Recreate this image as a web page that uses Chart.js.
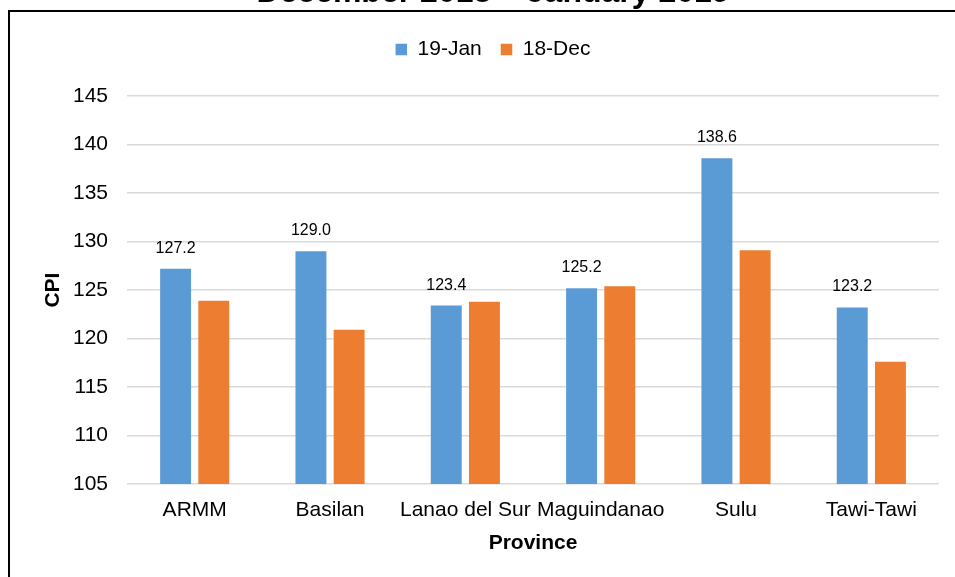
<!DOCTYPE html>
<html>
<head>
<meta charset="utf-8">
<title>CPI by Province</title>
<script src="https://cdn.jsdelivr.net/npm/chart.js@4.4.1/dist/chart.umd.min.js"></script>
<style>
  html, body { margin: 0; padding: 0; background: #fff; overflow: hidden; }
  body { width: 955px; height: 577px; position: relative; }
  #frame { position: absolute; left: 8px; top: 10px; width: 1000px; height: 600px; border-left: 2px solid #000; border-top: 2px solid #000; }
  #wrap { position: absolute; left: 0; top: -26.5px; width: 986px; height: 603.5px; }
</style>
</head>
<body>
<div id="frame"></div>
<div id="wrap"><canvas id="barChart"></canvas></div>
<script>
// data
var provinces = ['ARMM', 'Basilan', 'Lanao del Sur', 'Maguindanao', 'Sulu', 'Tawi-Tawi']
var jan19 = [127.2, 129.0, 123.4, 125.2, 138.6, 123.2]
var dec18 = [123.9, 120.9, 123.8, 125.4, 129.1, 117.6]
var yTicks = [105, 110, 115, 120, 125, 130, 135, 140, 145]

var FONT = '"Liberation Sans", Arial, Helvetica, sans-serif'
Chart.defaults.font.family = FONT
Chart.defaults.color = '#000'

// value labels above the 19-Jan bars
var valueLabels = {
  id: 'valueLabels',
  afterDatasetsDraw: function (chart) {
    var ctx = chart.ctx
    var meta = chart.getDatasetMeta(0)
    ctx.save()
    ctx.font = '16px ' + FONT
    ctx.fillStyle = '#000'
    ctx.textAlign = 'center'
    ctx.textBaseline = 'middle'
    meta.data.forEach(function (bar, i) {
      ctx.fillText(jan19[i].toFixed(1), bar.x, bar.y - 20.5)
    })
    ctx.restore()
  }
}

var barChartCanvas = document.getElementById('barChart').getContext('2d')
window.myBar = new Chart(barChartCanvas, {
  type: 'bar',
  data: {
    labels: provinces,
    datasets: [
      {
        label: '19-Jan',
        backgroundColor: '#5b9bd5',
        borderColor: '#5b9bd5',
        data: jan19
      },
      {
        label: '18-Dec',
        backgroundColor: '#ed7d31',
        borderColor: '#ed7d31',
        data: dec18
      }
    ]
  },
  options: {
    responsive: true,
    maintainAspectRatio: false,
    animation: false,
    categoryPercentage: 0.5645,
    barPercentage: 0.81,
    layout: {
      padding: { left: 47, right: 47, top: 0, bottom: 21.9 }
    },
    plugins: {
      title: {
        display: true,
        text: 'December 2018 \u2013 January 2019',
        font: { size: 32, weight: 'bold' },
        color: '#000',
        padding: { top: 0, bottom: 7.6 }
      },
      // empty spacer between legend and plot
      subtitle: {
        display: true,
        text: '',
        weight: 500,
        font: { size: 10 },
        padding: { top: 0, bottom: 14.2 }
      },
      legend: {
        position: 'top',
        labels: {
          boxWidth: 11.5,
          boxHeight: 11.5,
          padding: 19,
          font: { size: 21 },
          color: '#000'
        }
      },
      tooltip: { enabled: false }
    },
    scales: {
      x: {
        grid: { display: false, drawTicks: false },
        border: { display: false },
        ticks: { font: { size: 21 }, color: '#000', padding: 13.4, maxRotation: 0, autoSkip: false },
        title: {
          display: true,
          text: 'Province',
          font: { size: 21, weight: 'bold' },
          color: '#000',
          padding: { top: -5.6, bottom: 0 }
        }
      },
      y: {
        min: yTicks[0],
        max: yTicks[yTicks.length - 1],
        grid: { color: '#d9d9d9', lineWidth: 1.5, drawTicks: false },
        border: { display: false },
        ticks: { stepSize: yTicks[1] - yTicks[0], font: { size: 21 }, color: '#000', padding: 19 },
        title: {
          display: true,
          text: 'CPI',
          font: { size: 21, weight: 'bold' },
          color: '#000',
          padding: { top: -6.1, bottom: -12.1 }
        }
      }
    }
  },
  plugins: [valueLabels]
})
</script>
</body>
</html>
